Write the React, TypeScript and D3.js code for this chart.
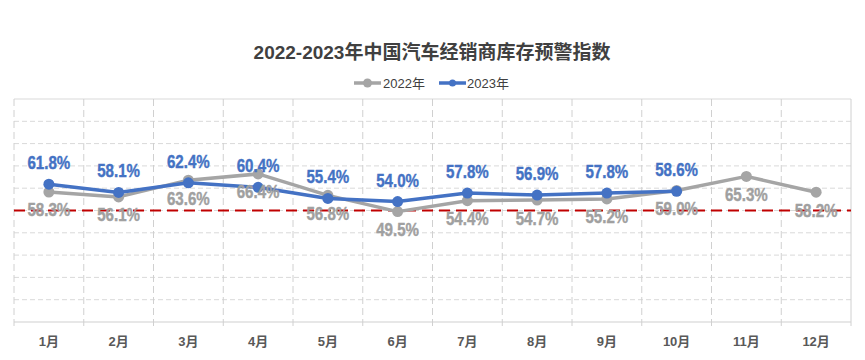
import React from "react";
import * as d3 from "d3";

const months = ["1月", "2月", "3月", "4月", "5月", "6月", "7月", "8月", "9月", "10月", "11月", "12月"];
const values2022 = [58.3, 56.1, 63.6, 66.4, 56.8, 49.5, 54.4, 54.7, 55.2, 59.0, 65.3, 58.2];
const values2023 = [61.8, 58.1, 62.4, 60.4, 55.4, 54.0, 57.8, 56.9, 57.8, 58.6];
const yTicks = [0, 10, 20, 30, 40, 50, 60, 70, 80, 90, 100];
const warningLine = 50;
const title = "2022-2023年中国汽车经销商库存预警指数";
const seriesNames = ["2022年", "2023年"];

const W = 865;
const H = 360;
const left = 14;
const right = 851;
const top = 99;
const bottom = 322;

const GRAY = "#A5A5A5";
const BLUE = "#4472C4";
const FONT = "'Liberation Sans', Arial, 'Noto Sans CJK SC', sans-serif";

export default function App() {
  const x = d3.scaleBand<string>().domain(months).range([left, right]);
  const y = d3.scaleLinear().domain([0, 100]).range([bottom, top]);
  const cx = (i: number) => (x(months[i]) as number) + x.bandwidth() / 2;
  const line = d3
    .line<number>()
    .x((_, i) => cx(i))
    .y((d) => y(d));

  const label = (v: number, i: number, dy: number, color: string) => (
    <text
      key={i}
      transform={`translate(${cx(i)},${y(v) + dy}) scale(0.84,1)`}
      fill={color}
      stroke={color}
      strokeWidth={0.4}
    >
      {v.toFixed(1) + "%"}
    </text>
  );

  return (
    <svg width={W} height={H} style={{ position: "absolute", left: 0, top: 0, background: "#fff" }}>
      <text x={432} y={59} textAnchor="middle" fontFamily={FONT} fontWeight="bold" fontSize={19} fill="#404040">
        {title}
      </text>
      {/* legend */}
      <g fontFamily={FONT} fontSize={13} fill="#404040">
        <line x1={354} x2={381} y1={83} y2={83} stroke={GRAY} strokeWidth={3.5} />
        <circle cx={367.5} cy={83} r={4.5} fill={GRAY} />
        <text x={383} y={87.5}>{seriesNames[0]}</text>
        <line x1={439} x2={466} y1={83} y2={83} stroke={BLUE} strokeWidth={3.5} />
        <circle cx={452.5} cy={83} r={3.5} fill={BLUE} />
        <text x={467} y={87.5}>{seriesNames[1]}</text>
      </g>
      {/* grid */}
      <g>
        {yTicks.slice(1, -1).map((t) => (
          <line key={t} x1={left} x2={right} y1={y(t)} y2={y(t)} stroke="#D9D9D9" strokeWidth={1} strokeDasharray="5,3" />
        ))}
        <line x1={left} x2={right} y1={y(100)} y2={y(100)} stroke="#D9D9D9" strokeWidth={1.2} />
        {months.map((m) => (
          <line key={m} x1={x(m) as number} x2={x(m) as number} y1={top} y2={bottom + 4} stroke="#D0D0D0" strokeWidth={1} strokeDasharray="7,4" />
        ))}
        <line x1={right} x2={right} y1={top} y2={bottom + 4} stroke="#D0D0D0" strokeWidth={1} />
        <line x1={left} x2={right} y1={bottom} y2={bottom} stroke="#D0D0D0" strokeWidth={1.2} />
      </g>
      {/* warning line */}
      <line x1={left} x2={right} y1={y(warningLine)} y2={y(warningLine)} stroke="#C00000" strokeWidth={2} strokeDasharray="11,6" />
      {/* x labels */}
      <g fontFamily={FONT} fontWeight="bold" fontSize={13} fill="#595959" textAnchor="middle">
        {months.map((m, i) => (
          <text key={m} x={cx(i)} y={346}>{m}</text>
        ))}
      </g>
      {/* series 2022 */}
      <path d={line(values2022) || ""} fill="none" stroke={GRAY} strokeWidth={3.5} strokeLinejoin="round" />
      {values2022.map((v, i) => (
        <circle key={i} cx={cx(i)} cy={y(v)} r={5.5} fill={GRAY} />
      ))}
      {/* series 2023 */}
      <path d={line(values2023) || ""} fill="none" stroke={BLUE} strokeWidth={3.5} strokeLinejoin="round" />
      {values2023.map((v, i) => (
        <circle key={i} cx={cx(i)} cy={y(v)} r={5.5} fill={BLUE} />
      ))}
      {/* labels */}
      <g fontFamily={FONT} fontWeight="bold" fontSize={18} textAnchor="middle">
        {values2022.map((v, i) => label(v, i, 24.5, "#A0A0A0"))}
        {values2023.map((v, i) => label(v, i, -15, BLUE))}
      </g>
    </svg>
  );
}
